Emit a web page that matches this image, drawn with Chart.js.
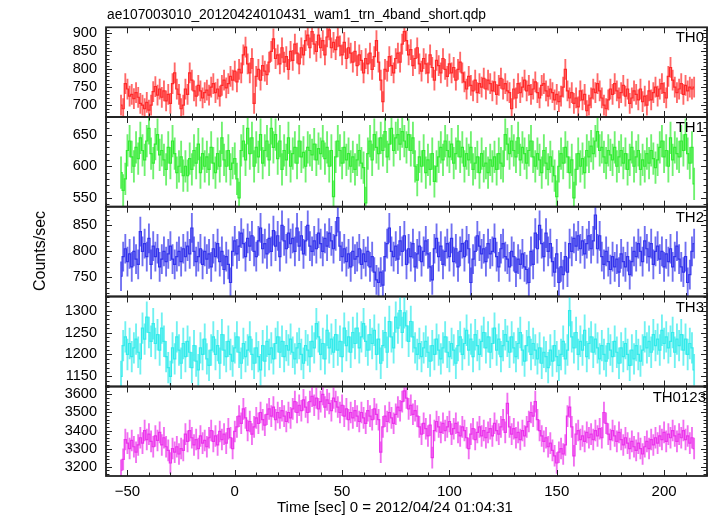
<!DOCTYPE html>
<html>
<head>
<meta charset="utf-8">
<script src="https://cdn.jsdelivr.net/npm/chart.js@4.4.0/dist/chart.umd.min.js"></script>
<style>
  body { margin: 0; background: #fff; }
  #wrap { position: relative; width: 717px; height: 516px; font-family: "Liberation Sans", Arial, sans-serif; color: #000; }
  canvas { position: absolute; left: 0; top: 0; }
  .txt { position: absolute; line-height: 1; white-space: nowrap; font-weight: normal; color: #000; }
</style>
</head>
<body>
<div id="wrap">
  <canvas id="c0" width="717" height="516"></canvas>
  <canvas id="c1" width="717" height="516"></canvas>
  <canvas id="c2" width="717" height="516"></canvas>
  <canvas id="c3" width="717" height="516"></canvas>
  <canvas id="c4" width="717" height="516"></canvas>
  <div class="txt" style="left:107px; top:8px; font-size:13.8px;">ae107003010_20120424010431_wam1_trn_4band_short.qdp</div>
  <div class="txt" style="right:13px; top:29px; font-size:15px;">TH0</div>
  <div class="txt" style="right:13px; top:119px; font-size:15px;">TH1</div>
  <div class="txt" style="right:13px; top:209px; font-size:15px;">TH2</div>
  <div class="txt" style="right:13px; top:299px; font-size:15px;">TH3</div>
  <div class="txt" style="right:11px; top:389px; font-size:15px;">TH0123</div>
  <div class="txt" style="left:40px; top:251px; font-size:16px; transform: translate(-50%, -50%) rotate(-90deg);">Counts/sec</div>
  <div class="txt" style="left:277px; top:499px; font-size:15px;">Time [sec] 0 = 2012/04/24 01:04:31</div>
</div>
<script>
// 1 s bins, first bin centre at -53 s
const T0 = -53;
const DT = 1;

const th0 = [
  700, 690, 760, 745, 725, 730, 718, 735, 722, 705,
  700, 690, 708, 686, 700, 738, 752, 728, 745, 722,
  740, 712, 730, 705, 760, 790, 745, 730, 690, 700,
  745, 730, 790, 770, 740, 725, 755, 740, 720, 735,
  742, 728, 750, 760, 735, 745, 725, 755, 770, 748,
  760, 780, 770, 795, 765, 800, 790, 840, 862, 815,
  790, 830, 705, 780, 800, 770, 810, 795, 785, 820,
  850, 885, 830, 840, 815, 860, 820, 835, 800, 850,
  825, 870, 845, 815, 860, 840, 880, 895, 860, 905,
  870, 850, 895, 860, 880, 840, 890, 910, 860, 875,
  855, 890, 865, 840, 875, 830, 860, 845, 820, 850,
  810, 840, 825, 790, 830, 815, 845, 800, 835, 880,
  820, 770, 710, 800, 795, 835, 810, 790, 830, 845,
  820, 870, 905, 880, 840, 855, 810, 830, 860, 815,
  795, 830, 815, 790, 840, 805, 770, 825, 810, 790,
  830, 800, 780, 815, 790, 805, 770, 800, 820, 790,
  765, 745, 780, 755, 740, 770, 735, 760, 750, 775,
  745, 770, 760, 740, 765, 730, 755, 775, 745, 760,
  740, 735, 690, 745, 720, 760, 735, 750, 770, 740,
  755, 730, 745, 765, 735, 720, 755, 760, 740, 725,
  745, 735, 715, 730, 710, 725, 750, 800, 740, 720,
  735, 705, 720, 695, 740, 715, 730, 685, 700, 720,
  745, 735, 760, 740, 720, 700, 690, 715, 745, 730,
  760, 740, 720, 735, 755, 725, 745, 705, 720, 740,
  730, 715, 745, 710, 725, 700, 740, 715, 735, 750,
  725, 745, 760, 735, 720, 780, 805, 770, 750, 735,
  745, 760, 730, 755, 740, 750, 745, 750
];

const th1 = [
  590, 562, 580, 625, 640, 615, 600, 630, 612, 645,
  625, 610, 640, 660, 620, 605, 635, 650, 618, 625,
  610, 595, 630, 605, 640, 620, 590, 600, 615, 585,
  600, 585, 612, 595, 625, 605, 635, 590, 620, 600,
  615, 595, 630, 605, 590, 620, 600, 645, 610, 600,
  625, 595, 605, 612, 580, 550, 625, 640, 610, 660,
  620, 645, 600, 630, 615, 650, 605, 625, 640, 610,
  660, 630, 650, 612, 640, 595, 625, 610, 645, 600,
  620, 630, 605, 640, 615, 622, 600, 630, 625, 618,
  635, 610, 628, 620, 640, 612, 630, 600, 625, 552,
  615, 640, 625, 605, 630, 610, 620, 600, 615, 595,
  610, 625, 605, 598, 542, 620, 640, 610, 650, 630,
  620, 645, 625, 655, 615, 635, 660, 625, 645, 650,
  635, 655, 640, 630, 650, 625, 645, 600, 578, 615,
  600, 625, 590, 610, 595, 620, 576, 600, 615, 630,
  610, 640, 625, 615, 635, 605, 620, 640, 615, 630,
  600, 620, 610, 630, 595, 605, 615, 590, 620, 600,
  605, 590, 610, 600, 615, 595, 620, 605, 600, 650,
  635, 620, 640, 625, 615, 645, 610, 630, 620, 605,
  625, 640, 615, 600, 620, 610, 590, 625, 605, 595,
  615, 600, 585, 552, 600, 620, 605, 630, 615, 590,
  610, 550, 595, 620, 600, 612, 590, 625, 615, 632,
  620, 640, 655, 625, 630, 615, 605, 625, 618, 610,
  630, 600, 615, 625, 605, 620, 595, 610, 630, 600,
  615, 625, 595, 610, 600, 620, 605, 625, 612, 598,
  610, 630, 640, 615, 625, 600, 645, 610, 630, 620,
  615, 640, 625, 650, 620, 605, 630, 572
];

const th2 = [
  752, 790, 805, 780, 795, 770, 800, 785, 775, 838,
  800, 815, 790, 825, 775, 810, 790, 805, 770, 785,
  800, 780, 795, 810, 785, 775, 790, 800, 780, 805,
  790, 810, 795, 845, 800, 780, 790, 805, 775, 800,
  785, 795, 770, 805, 790, 815, 780, 800, 765, 790,
  775, 740, 800, 820, 795, 810, 835, 815, 790, 825,
  810, 830, 800, 790, 820, 845, 805, 815, 795, 825,
  800, 840, 810, 830, 790, 850, 820, 805, 835, 815,
  825, 800, 845, 810, 830, 795, 820, 850, 810, 800,
  820, 805, 835, 815, 800, 825, 810, 835, 820, 805,
  830, 865, 810, 790, 805, 780, 795, 770, 800, 785,
  790, 805, 775, 795, 780, 800, 770, 790, 760, 745,
  740, 760, 735, 790, 815, 845, 800, 790, 810, 785,
  820, 800, 830, 775, 805, 790, 815, 770, 795, 810,
  780, 800, 820, 795, 770, 745, 805, 825, 790, 810,
  775, 800, 815, 790, 825, 780, 805, 770, 800, 815,
  790, 820, 805, 740, 785, 800, 830, 810, 795, 805,
  780, 815, 795, 800, 825, 790, 770, 805, 815, 790,
  785, 770, 800, 790, 760, 785, 775, 795, 770, 765,
  740, 800, 775, 835, 805, 850, 815, 790, 835, 800,
  815, 780, 760, 795, 740, 770, 755, 790, 760, 815,
  800, 825, 810, 830, 805, 820, 795, 815, 830, 805,
  820, 870, 805, 830, 790, 775, 800, 780, 765, 790,
  770, 785, 760, 795, 780, 770, 790, 755, 780, 800,
  790, 815, 800, 780, 820, 805, 790, 815, 775, 800,
  810, 785, 800, 770, 795, 780, 805, 770, 790, 810,
  785, 770, 760, 790, 740, 755, 800, 815
];

const th3 = [
  1150, 1220, 1240, 1200, 1225, 1195, 1215, 1235, 1205, 1190,
  1260, 1235, 1285, 1250, 1230, 1270, 1225, 1245, 1210, 1260,
  1230, 1195, 1170, 1150, 1215, 1190, 1240, 1210, 1180, 1225,
  1195, 1230, 1205, 1170, 1220, 1185, 1165, 1215, 1200, 1235,
  1190, 1175, 1210, 1240, 1200, 1220, 1180, 1245, 1210, 1195,
  1230, 1200, 1185, 1215, 1240, 1205, 1180, 1225, 1195, 1210,
  1240, 1200, 1180, 1215, 1195, 1165, 1220, 1185, 1230, 1200,
  1215, 1190, 1225, 1240, 1205, 1230, 1195, 1220, 1210, 1235,
  1205, 1190, 1215, 1225, 1200, 1180, 1220, 1210, 1195, 1230,
  1215, 1270, 1240, 1200, 1225, 1190, 1255, 1215, 1235, 1205,
  1245, 1210, 1230, 1195, 1260, 1220, 1240, 1205, 1250, 1225,
  1260, 1215, 1240, 1270, 1230, 1210, 1245, 1225, 1255, 1200,
  1235, 1180, 1220, 1250, 1205, 1275, 1240, 1215, 1285, 1260,
  1300, 1250, 1295, 1265, 1230, 1275, 1240, 1215, 1200, 1225,
  1195, 1215, 1230, 1205, 1185, 1220, 1200, 1235, 1210, 1190,
  1215, 1240, 1205, 1195, 1225, 1210, 1180, 1220, 1240, 1200,
  1225, 1255, 1210, 1235, 1195, 1245, 1220, 1200, 1230, 1250,
  1215, 1240, 1205, 1225, 1260, 1210, 1235, 1195, 1220, 1245,
  1230, 1205, 1240, 1215, 1195, 1225, 1250, 1210, 1185, 1220,
  1240, 1200, 1225, 1210, 1190, 1215, 1180, 1205, 1195, 1170,
  1210, 1185, 1220, 1195, 1175, 1200, 1230, 1190, 1210, 1300,
  1240, 1215, 1250, 1200, 1230, 1210, 1255, 1195, 1225, 1240,
  1205, 1235, 1215, 1190, 1220, 1200, 1185, 1225, 1210, 1195,
  1230, 1205, 1180, 1215, 1195, 1225, 1200, 1175, 1210, 1190,
  1220, 1200, 1185, 1210, 1240, 1215, 1230, 1205, 1245, 1220,
  1235, 1210, 1255, 1225, 1240, 1215, 1230, 1250, 1205, 1235,
  1220, 1245, 1210, 1235, 1200, 1225, 1215, 1165
];

const th0123 = [
  3180, 3240, 3350, 3330, 3300, 3345, 3310, 3280, 3320, 3360,
  3330, 3400, 3350, 3380, 3340, 3310, 3370, 3345, 3390, 3320,
  3360, 3310, 3290, 3220, 3300, 3280, 3310, 3270, 3300, 3290,
  3380, 3340, 3400, 3360, 3320, 3350, 3300, 3370, 3330, 3345,
  3310, 3360, 3400, 3340, 3370, 3320, 3395, 3350, 3380, 3330,
  3410, 3360, 3300, 3395, 3420, 3480, 3440, 3520, 3470, 3400,
  3450, 3380, 3420, 3470, 3440, 3500, 3460, 3430, 3490, 3520,
  3480, 3530, 3460, 3500, 3470, 3510, 3480, 3450, 3500, 3470,
  3520, 3560, 3500, 3540, 3510, 3570, 3530, 3500, 3560, 3590,
  3540, 3580, 3520, 3560, 3600, 3530, 3570, 3550, 3510, 3580,
  3560, 3530, 3500, 3540, 3480, 3520, 3460, 3500, 3470, 3510,
  3480, 3450, 3500, 3470, 3440, 3510, 3480, 3460, 3520, 3490,
  3460, 3280, 3420, 3480, 3450, 3500, 3470, 3440, 3490, 3530,
  3510, 3560, 3620, 3580, 3520, 3540, 3490, 3510, 3480, 3420,
  3380, 3440, 3410, 3370, 3430, 3250, 3400, 3450, 3420, 3390,
  3440, 3400, 3420, 3450, 3380, 3410, 3440, 3390, 3370, 3420,
  3400, 3360, 3300, 3380, 3410, 3350, 3390, 3420, 3370, 3400,
  3360, 3390, 3410, 3370, 3440, 3400, 3380, 3420, 3460, 3390,
  3550, 3420, 3380, 3410, 3360, 3390, 3350, 3400, 3370, 3420,
  3450, 3500, 3480, 3560, 3460, 3400, 3370, 3340, 3360, 3310,
  3330, 3290, 3260, 3220, 3280, 3300, 3270, 3320, 3480, 3530,
  3420, 3260, 3380, 3400, 3350, 3370, 3340, 3390, 3360, 3380,
  3350, 3400, 3370, 3410, 3360, 3500, 3440, 3380, 3350, 3400,
  3370, 3340, 3390, 3350, 3320, 3360, 3330, 3300, 3340, 3310,
  3290, 3330, 3300, 3270, 3310, 3340, 3300, 3350, 3320, 3360,
  3330, 3370, 3350, 3390, 3340, 3380, 3360, 3400, 3370, 3340,
  3380, 3360, 3400, 3350, 3370, 3330, 3360, 3300
];

// typical 1-sigma error per band (counts/sec)
const errs = [28, 25, 28, 35, 58];

const panels = [
  { id: 'c0', vals: th0,    color: 'rgb(255,40,40)',  bar: 'rgba(255,40,40,0.7)',  min: 667,  max: 917,  step: 50,  minor: 10, top: 27.3,  bottom: 117 },
  { id: 'c1', vals: th1,    color: 'rgb(50,235,50)',  bar: 'rgba(50,235,50,0.7)',  min: 536,  max: 678,  step: 50,  minor: 10, top: 117,   bottom: 206.7 },
  { id: 'c2', vals: th2,    color: 'rgb(50,50,235)',  bar: 'rgba(50,50,235,0.7)',  min: 713,  max: 886,  step: 50,  minor: 10, top: 206.7, bottom: 296.5 },
  { id: 'c3', vals: th3,    color: 'rgb(50,235,235)', bar: 'rgba(50,235,235,0.7)', min: 1127, max: 1332, step: 50,  minor: 10, top: 296.5, bottom: 386.5 },
  { id: 'c4', vals: th0123, color: 'rgb(235,50,235)', bar: 'rgba(235,50,235,0.7)', min: 3148, max: 3644, step: 100, minor: 20, top: 386.5, bottom: 476 }
];

const fmt = v => String(v).replace('-', '\u2212');

// frame + inward ticks on all four sides, QDP style
const frameTicks = {
  id: 'frameTicks',
  afterDatasetsDraw(chart, args, opts) {
    const { ctx, chartArea: a } = chart;
    const x = chart.scales.x, y = chart.scales.y;
    ctx.save();
    ctx.strokeStyle = '#222';
    ctx.lineWidth = 1;
    ctx.beginPath();
    for (let v = Math.ceil(x.min / 10) * 10; v <= x.max; v += 10) {
      const px = Math.round(x.getPixelForValue(v)) + 0.5;
      const len = v % 50 === 0 ? 6 : 3.5;
      ctx.moveTo(px, a.top); ctx.lineTo(px, a.top + len);
      ctx.moveTo(px, a.bottom); ctx.lineTo(px, a.bottom - len);
    }
    for (let v = Math.ceil(y.min / opts.minor) * opts.minor; v <= y.max; v += opts.minor) {
      const py = Math.round(y.getPixelForValue(v)) + 0.5;
      const len = v % opts.major === 0 ? 6 : 3.5;
      ctx.moveTo(a.left, py); ctx.lineTo(a.left + len, py);
      ctx.moveTo(a.right, py); ctx.lineTo(a.right - len, py);
    }
    ctx.stroke();
    ctx.lineWidth = 1.8;
    ctx.strokeRect(a.left, a.top, a.right - a.left, a.bottom - a.top);
    ctx.restore();
  }
};

panels.forEach((p, k) => {
  const last = k === panels.length - 1;
  const times = p.vals.map((_, i) => T0 + i * DT);
  const err = errs[k];
  new Chart(document.getElementById(p.id), {
    type: 'line',
    data: {
      datasets: [
        {
          type: 'bar',
          data: p.vals.map((v, i) => ({ x: times[i], y: [v - err, v + err] })),
          backgroundColor: p.bar,
          borderWidth: 0,
          barThickness: 1.2,
          grouped: false,
          order: 2
        },
        {
          type: 'line',
          data: p.vals.map((v, i) => ({ x: times[i], y: v })),
          borderColor: p.color,
          borderWidth: 1.2,
          pointRadius: 0,
          stepped: 'middle',
          order: 1
        }
      ]
    },
    options: {
      responsive: false,
      animation: false,
      devicePixelRatio: 1,
      layout: { padding: { left: 0, right: 10, top: p.top, bottom: last ? 516 - p.bottom - 28 : 516 - p.bottom } },
      plugins: {
        legend: { display: false },
        tooltip: { enabled: false },
        frameTicks: { major: p.step, minor: p.minor }
      },
      scales: {
        x: {
          type: 'linear',
          min: -60,
          max: 220,
          offset: false,
          display: last,
          grid: { display: false, drawTicks: false },
          border: { display: false },
          afterFit: s => { if (last) s.height = 28; },
          ticks: {
            stepSize: 50,
            includeBounds: false,
            autoSkip: false,
            maxRotation: 0,
            padding: 7,
            color: '#000',
            font: { family: '"Liberation Sans", Arial, sans-serif', size: 15 },
            callback: v => fmt(v)
          }
        },
        y: {
          min: p.min,
          max: p.max,
          grid: { display: false, drawTicks: false },
          border: { display: false },
          afterFit: s => { s.width = 106; },
          afterBuildTicks: s => {
            const t = [];
            for (let v = Math.ceil(p.min / p.step) * p.step; v <= p.max; v += p.step) t.push({ value: v });
            s.ticks = t;
          },
          ticks: {
            autoSkip: false,
            padding: 9,
            color: '#000',
            font: { family: '"Liberation Sans", Arial, sans-serif', size: 14.5 },
            callback: v => fmt(v)
          }
        }
      }
    },
    plugins: [frameTicks]
  });
});
</script>
</body>
</html>
